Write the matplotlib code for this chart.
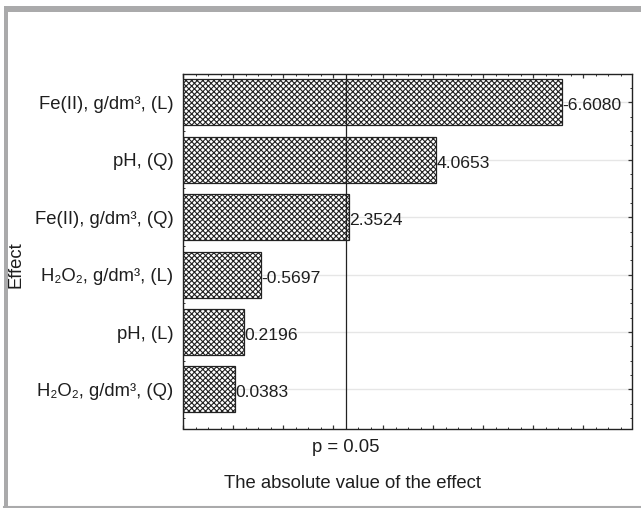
import matplotlib
matplotlib.use("Agg")
import matplotlib.pyplot as plt
from matplotlib.ticker import MultipleLocator, NullFormatter
from matplotlib.patches import Rectangle
from matplotlib.lines import Line2D

plt.rcParams['font.family'] = ['Liberation Sans', 'DejaVu Sans']
plt.rcParams['hatch.linewidth'] = 0.8
plt.rcParams['hatch.color'] = '#1a1a1a'

# Data (top to bottom)
effects = ["Fe(II), g/dm³, (L)", "pH, (Q)", "Fe(II), g/dm³, (Q)",
           "H₂O₂, g/dm³, (L)", "pH, (L)", "H₂O₂, g/dm³, (Q)"]
value_labels = ["-6.6080", "4.0653", "2.3524", "-0.5697", "0.2196", "0.0383"]
bar_lengths = [7.58, 5.06, 3.32, 1.55, 1.21, 1.03]
p_line = 3.254  # p = 0.05 threshold

FS = 13.3
FS_VAL = 12.6
TXT = '#1e1e1e'

fig = plt.figure(figsize=(6.41, 5.08), dpi=100)
ax = fig.add_axes([183/641, 1-428.5/508, (632-183)/641, (428.5-73.6)/508])

ypos = list(range(len(effects)))
for y in ypos:
    ax.axhline(y, color='#e6e6e6', lw=1.0, zorder=0)
ax.barh(ypos, bar_lengths, height=0.8, color='white', edgecolor='#222222',
        hatch='xxxxxx', linewidth=0.9, zorder=2)
for y, w, lab in zip(ypos, bar_lengths, value_labels):
    ax.text(w + 0.01, y + 0.06, lab, va='center', ha='left', fontsize=FS_VAL, color=TXT, zorder=3)

ax.axvline(p_line, color='#222222', lw=0.9, zorder=3)

ax.set_xlim(0, 8.98)
ax.set_ylim(5.68, -0.5)
ax.set_yticks(ypos)
ax.set_yticklabels(effects, fontsize=FS, color=TXT)
ax.xaxis.set_major_locator(MultipleLocator(1))
ax.xaxis.set_minor_locator(MultipleLocator(0.25))
ax.yaxis.set_minor_locator(MultipleLocator(0.25))
ax.xaxis.set_major_formatter(NullFormatter())
ax.tick_params(which='both', direction='in', top=True, right=True, color='#333333')
ax.tick_params(which='major', length=3, width=0.9)
ax.tick_params(which='minor', length=1.6, width=0.7)
ax.tick_params(axis='y', which='major', pad=7)
for s in ax.spines.values():
    s.set_linewidth(1.0)
    s.set_color('#222222')

ax.text(p_line, -0.03, "p = 0.05", transform=ax.get_xaxis_transform(),
        ha='center', va='top', fontsize=FS, color=TXT)

fig.text(353/641, 1-484/508, "The absolute value of the effect", ha='center', va='center',
         fontsize=FS, color=TXT)
fig.text(16/641, 1-265/508, "Effect", rotation=90, ha='center', va='center',
         fontsize=FS, color=TXT)

# outer gray frame
fig.patches.append(Rectangle((4/641, 0), 4/641, 1-6/508, transform=fig.transFigure,
                             facecolor='#aaaaab', edgecolor='none'))
fig.patches.append(Rectangle((4/641, 1-12/508), 1-4/641, 6/508, transform=fig.transFigure,
                             facecolor='#aaaaab', edgecolor='none'))
fig.lines.append(Line2D([4/641, 1], [1-507/508, 1-507/508], transform=fig.transFigure,
                        color='#aaaaab', lw=1.5))

fig.savefig("out.png", dpi=100)
